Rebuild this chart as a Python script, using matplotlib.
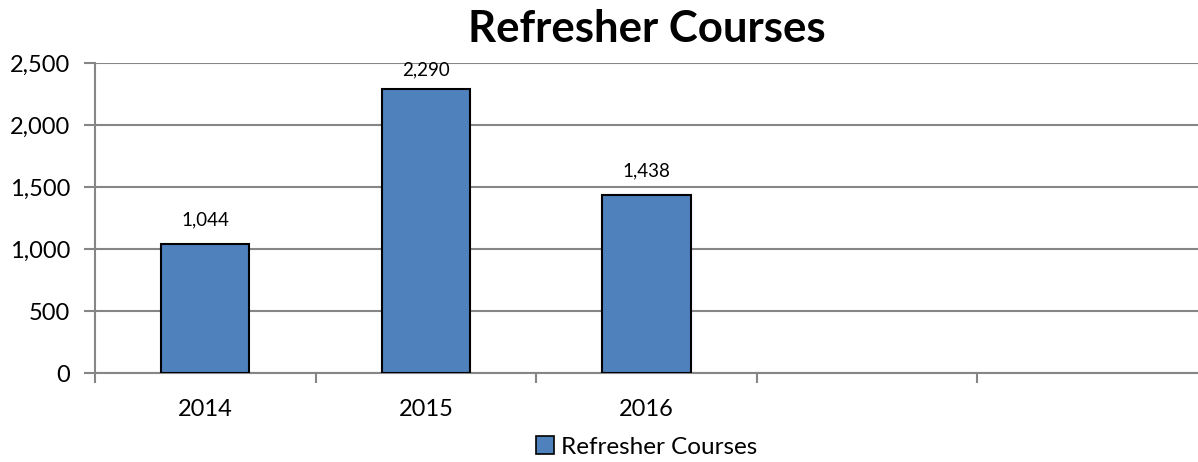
import matplotlib.pyplot as plt
from matplotlib.patches import Patch

plt.rcParams['font.family'] = ['Lato', 'DejaVu Sans']

years = ['2014', '2015', '2016', '', '']
courses = [1044, 2290, 1438]
series_name = 'Refresher Courses'
yticks = [0, 500, 1000, 1500, 2000, 2500]

bar_color = '#4F81BD'
grid_color = '#868686'

fig = plt.figure(figsize=(11.98, 4.62), dpi=100)
ax = fig.add_axes([95 / 1198, 89 / 462, 1103 / 1198, 310 / 462])

x = list(range(len(years)))
ax.bar(x[:len(courses)], courses, width=0.4, color=bar_color,
       edgecolor='black', linewidth=1.5, zorder=3)

# value labels above each bar, kept below the top of the plot
for xi, v in zip(x, courses):
    ax.text(xi, min(v + 150, 2400), f'{v:,}', ha='center', va='baseline',
            fontsize=13.5, color='black', zorder=4)

ax.set_xlim(-0.5, len(years) - 0.5)
ax.set_ylim(0, 2500)
ax.set_yticks(yticks)
ax.set_yticklabels([f'{t:,}' for t in yticks], fontsize=17)
ax.yaxis.grid(True, color=grid_color, linewidth=1.5, zorder=0)
ax.set_axisbelow(True)

# category labels centred, tick marks between categories
ax.set_xticks(x)
ax.set_xticklabels(years, fontsize=17)
ax.tick_params(axis='x', length=0, pad=19)
ax.set_xticks([i - 0.5 for i in range(len(years))], minor=True)
ax.tick_params(axis='x', which='minor', length=7, width=1.5, color=grid_color)
ax.tick_params(axis='y', length=8, width=1.5, color=grid_color, pad=10)

for side in ['top', 'right']:
    ax.spines[side].set_visible(False)
for side in ['left', 'bottom']:
    ax.spines[side].set_color(grid_color)
    ax.spines[side].set_linewidth(1.5)

fig.suptitle(series_name, x=(95 + 1198) / 2 / 1198, y=1 - 29 / 462, va='center',
             fontsize=31.5, fontweight='bold')

handle = Patch(facecolor=bar_color, edgecolor='black', linewidth=1.2)
fig.legend([handle], [series_name], loc='center',
           bbox_to_anchor=((95 + 1198) / 2 / 1198, 1 - 447 / 462),
           frameon=False, fontsize=17.5, handlelength=0.75, handleheight=0.75,
           handletextpad=0.3, borderpad=0)

fig.savefig('out.png', dpi=100)
